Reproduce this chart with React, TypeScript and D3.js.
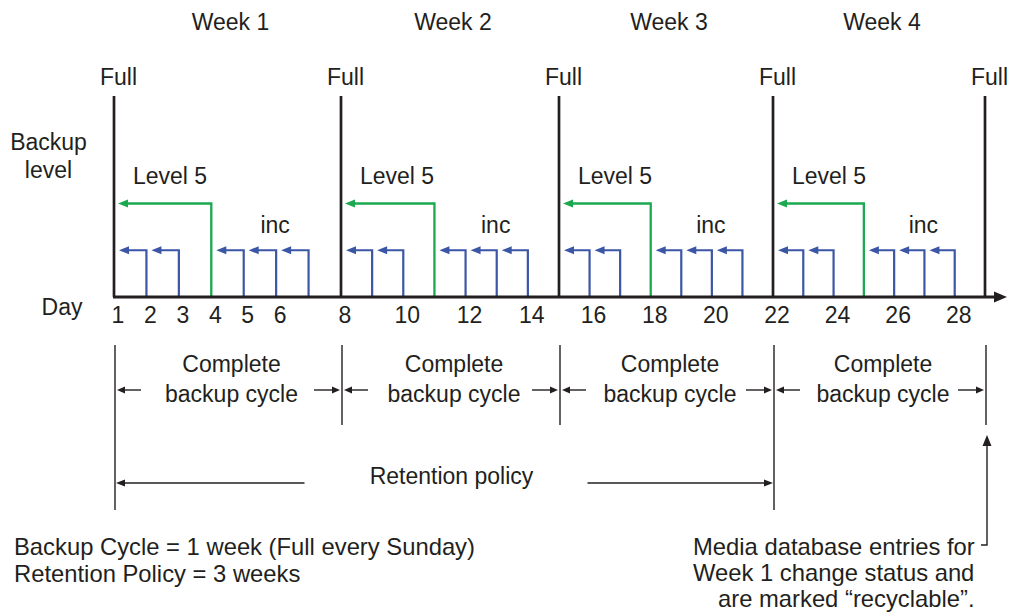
import React from "react";
import * as d3 from "d3";

// ---- data ----
const weekLabels = ["Week 1", "Week 2", "Week 3", "Week 4"];
const fullDays = [1, 8, 15, 22, 29];
const level5Days = [4, 11, 18, 25];
const incDays = [2, 3, 5, 6, 7, 9, 10, 12, 13, 14, 16, 17, 19, 20, 21, 23, 24, 26, 27, 28];
const dayTicks = [1, 2, 3, 4, 5, 6, 8, 10, 12, 14, 16, 18, 20, 22, 24, 26, 28];
const incLevel = 1;
const level5Level = 2;
const fullLevel = 4.3;
const cycleStarts = [1, 8, 15, 22];
const cycleLength = 7;
const retentionStart = 1;
const retentionEnd = 22;
const recycleDay = 29;
const notesLeft = ["Backup Cycle = 1 week (Full every Sunday)", "Retention Policy = 3 weeks"];
const notesRight = ["Media database entries for", "Week 1 change status and", "are marked \u201Crecyclable\u201D."];

const FONT = "'Liberation Sans', Arial, Helvetica, sans-serif";
const INK = "#231f20";
const BLUE = "#3c56a6";
const GREEN = "#1ba84f";

const W = 1010;
const H = 616;

function head(tx: number, ty: number, dir: "left" | "right" | "up", len: number, half: number) {
  if (dir === "left") return `M${tx},${ty}L${tx + len},${ty - half}L${tx + len},${ty + half}Z`;
  if (dir === "right") return `M${tx},${ty}L${tx - len},${ty - half}L${tx - len},${ty + half}Z`;
  return `M${tx},${ty}L${tx - half},${ty + len}L${tx + half},${ty + len}Z`;
}

export default function App() {
  const x = d3.scaleLinear().domain(fullDays).range([114, 341, 559, 773, 985]);
  const y = d3.scaleLinear().domain([0, fullLevel]).range([297, 96]);
  const y0 = y(0);
  const fs = 23;

  const txt = (s: string, tx: number, ty: number, anchor = "middle", size = fs, key?: any) => (
    <text key={key} x={tx} y={ty} textAnchor={anchor} fontFamily={FONT} fontSize={size} fill={INK}>
      {s}
    </text>
  );

  const botTop = 345;
  const botShort = 425;
  const botLong = 510;
  const cycY = 390;
  const retY = 483;
  const retCenter = (x(retentionStart) + x(retentionEnd)) / 2 + 8;

  return (
    <svg width={W} height={H} style={{ position: "absolute", left: 0, top: 0, background: "#fff" }}>
      <rect width={W} height={H} fill="#fff" />
      {/* week labels */}
      {weekLabels.map((w, i) =>
        txt(w, (x(cycleStarts[i]) + x(cycleStarts[i] + cycleLength)) / 2 + 3, 30, "middle", fs, "w" + i)
      )}
      {/* y label */}
      {txt("Backup", 48.5, 150)}
      {txt("level", 48.5, 178)}
      {txt("Day", 62, 315)}

      {/* full lines */}
      {fullDays.map((d) => (
        <g key={"f" + d}>
          <line x1={x(d)} x2={x(d)} y1={y0} y2={y(fullLevel)} stroke={INK} strokeWidth={2.7} />
          {txt("Full", x(d) + 4.5, 85)}
        </g>
      ))}

      {/* level 5 arrows */}
      {level5Days.map((d, i) => {
        const xs = x(fullDays[i]);
        const yy = y(level5Level);
        const tip = xs + 4;
        return (
          <g key={"l" + d}>
            <path d={`M${x(d)},${y0}L${x(d)},${yy}L${tip + 6},${yy}`} fill="none" stroke={GREEN} strokeWidth={2.3} />
            <path d={head(tip, yy, "left", 10, 4)} fill={GREEN} />
            {txt("Level 5", xs + 19, 184, "start")}
          </g>
        );
      })}

      {/* inc arrows */}
      {incDays.map((d) => {
        const yy = y(incLevel);
        const tip = x(d - 1) + 5;
        return (
          <g key={"i" + d}>
            <path d={`M${x(d)},${y0}L${x(d)},${yy}L${tip + 6},${yy}`} fill="none" stroke={BLUE} strokeWidth={2.2} />
            <path d={head(tip, yy, "left", 10, 4)} fill={BLUE} />
          </g>
        );
      })}
      {cycleStarts.map((s) => txt("inc", x(s + 5) - 1, 233, "middle", fs, "inc" + s))}

      {/* axis */}
      <line x1={x(1) - 1} x2={997} y1={y0} y2={y0} stroke={INK} strokeWidth={3} />
      <path d={head(1007, y0, "right", 13, 5.5)} fill={INK} />
      {dayTicks.map((d) => txt(String(d), x(d) + 4, 323, "middle", fs, "t" + d))}

      {/* backup cycles */}
      {fullDays.map((d) => (
        <line
          key={"b" + d}
          x1={x(d) + 1}
          x2={x(d) + 1}
          y1={botTop}
          y2={d === retentionStart || d === retentionEnd ? botLong : botShort}
          stroke={INK}
          strokeWidth={1.4}
        />
      ))}
      {cycleStarts.map((s) => {
        const a = x(s) + 1;
        const b = x(s + cycleLength) + 1;
        const c = (a + b) / 2 + 3;
        return (
          <g key={"c" + s}>
            {txt("Complete", c, 372)}
            {txt("backup cycle", c, 402)}
            <line x1={a + 26} x2={a + 8} y1={cycY} y2={cycY} stroke={INK} strokeWidth={1.4} />
            <path d={head(a + 2, cycY, "left", 8, 3.5)} fill={INK} />
            <line x1={b - 28} x2={b - 9} y1={cycY} y2={cycY} stroke={INK} strokeWidth={1.4} />
            <path d={head(b - 2, cycY, "right", 8, 3.5)} fill={INK} />
          </g>
        );
      })}

      {/* retention */}
      {txt("Retention policy", retCenter, 484)}
      <line x1={retCenter - 147} x2={x(retentionStart) + 10} y1={retY} y2={retY} stroke={INK} strokeWidth={1.4} />
      <path d={head(x(retentionStart) + 2, retY, "left", 9, 3.5)} fill={INK} />
      <line x1={retCenter + 136} x2={x(retentionEnd) - 8} y1={retY} y2={retY} stroke={INK} strokeWidth={1.4} />
      <path d={head(x(retentionEnd) - 0, retY, "right", 9, 3.5)} fill={INK} />

      {/* recyclable pointer */}
      <path
        d={`M${x(recycleDay) - 4},545L${x(recycleDay) + 2},545L${x(recycleDay) + 2},444`}
        fill="none"
        stroke={INK}
        strokeWidth={1.4}
      />
      <path d={head(x(recycleDay) + 2, 435, "up", 11, 4.5)} fill={INK} />

      {/* notes */}
      {notesLeft.map((s, i) => txt(s, 14, 555 + i * 26.5, "start", 23.8, "nl" + i))}
      {notesRight.map((s, i) => txt(s, i === 2 ? 718 : 693, 555 + i * 26, "start", 23.8, "nr" + i))}
    </svg>
  );
}
